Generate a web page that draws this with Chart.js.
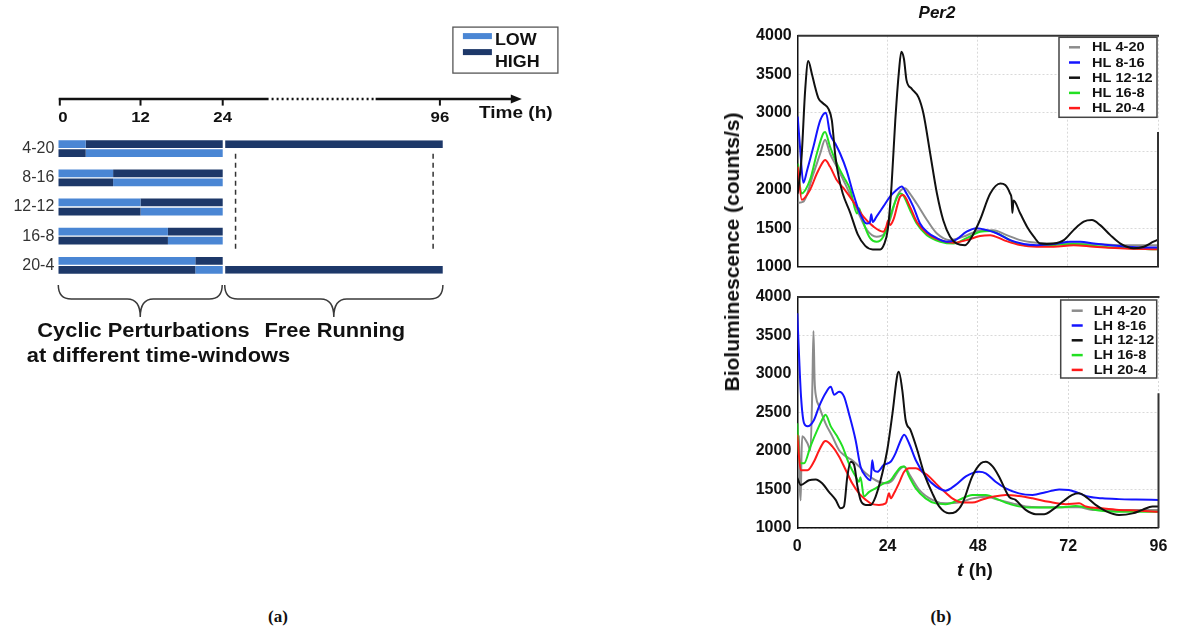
<!DOCTYPE html>
<html><head><meta charset="utf-8">
<script src="https://cdn.jsdelivr.net/npm/chart.js@4/dist/chart.umd.min.js"></script>
<style>
html,body{margin:0;padding:0;background:#fff;}
body{width:1177px;height:633px;position:relative;overflow:hidden;font-family:"Liberation Sans",Arial,sans-serif;color:#111;}
canvas{position:absolute;}
.lbl{position:absolute;transform:translate(-50%,-50%);white-space:nowrap;color:#111;}
</style></head><body>
<canvas id="ca" width="600" height="400" style="left:0;top:0"></canvas>
<canvas id="cb1" width="457" height="290" style="left:720px;top:0"></canvas>
<canvas id="cb2" width="457" height="310" style="left:720px;top:280px"></canvas>
<div class="lbl" style="left:278px;top:617px;font:bold 17px 'Liberation Serif','Times New Roman',serif">(a)</div>
<div class="lbl" style="left:941px;top:617px;font:bold 17px 'Liberation Serif','Times New Roman',serif">(b)</div>
<div class="lbl" style="left:937px;top:13px;font:italic bold 17px 'Liberation Sans',Arial,sans-serif">Per2</div>
<div class="lbl" style="left:732px;top:252px;transform:translate(-50%,-50%) rotate(-90deg);font:bold 21px 'Liberation Sans',Arial,sans-serif">Bioluminescence (counts/s)</div>
<div class="lbl" style="left:975px;top:570px;font:bold 19px 'Liberation Sans',Arial,sans-serif"><i>t</i> (h)</div>
<script>
// ---------------- DATA ----------------
// Panel (a): schematic of perturbation windows
const conditions = ['4-20', '8-16', '12-12', '16-8', '20-4'];
const firstPhaseHours = [4, 8, 12, 16, 20];
const cycleEnd = 24;
const freeRunEnd = 96;
const timeTicks = [0, 12, 24, 96];
const schematicLegend = ['LOW', 'HIGH'];
const freeRunTop = [[24, 96], null, null, null, null];
const freeRunBottom = [null, null, null, null, [24, 96]];

// Panel (b) top: HL series  [t (h), counts/s]
const HL_4_20 = [[0,1830],[1.5,1845],[4.2,2210],[6,2470],[7.3,2650],[8.6,2470],[10.4,2300],[13,2040],[15.8,1740],[18.4,1480],[21,1390],[23.1,1430],[24.6,1610],[26.4,1910],[28.6,2020],[29.9,1950],[31.7,1820],[34.4,1610],[37.1,1430],[40.6,1345],[44.1,1390],[48.6,1470],[52.1,1475],[55.7,1410],[59.3,1345],[63.7,1310],[68.2,1300],[73.5,1300],[78.9,1295],[86,1280],[96,1280]];
const HL_8_16 = [[0,2950],[0.7,2500],[1.5,2090],[2.5,2250],[4.2,2560],[6,2900],[7.5,3000],[8.6,2730],[10,2600],[11.3,2470],[13,2255],[14.8,1950],[16.6,1690],[18.4,1560],[19.2,1570],[19.6,1680],[20,1580],[21,1650],[22.8,1780],[24.6,1910],[26.4,2000],[27.7,2040],[29,1950],[30.8,1780],[32.6,1560],[34.4,1455],[37.1,1370],[39.8,1325],[42,1345],[45,1455],[47.7,1500],[50.4,1475],[53,1435],[56.6,1345],[60.2,1295],[63.7,1280],[68.2,1295],[72.6,1325],[75.3,1325],[78.9,1300],[83.3,1280],[87.7,1260],[92.2,1250],[96,1250]];
const HL_12_12 = [[0,1950],[1,2400],[2,3300],[2.8,3670],[3.8,3500],[4.6,3340],[5.5,3190],[6.8,3120],[8.2,3050],[9.1,2900],[10,2450],[11,2150],[12,1950],[14,1700],[16,1420],[18,1270],[20,1225],[22,1225],[23,1290],[24,1480],[25,2050],[26,2900],[27,3550],[27.6,3790],[28.3,3700],[29,3420],[30.4,3310],[32.2,3200],[33.5,2990],[35.3,2470],[37.1,1950],[38.8,1600],[40.6,1390],[42.4,1300],[44.6,1280],[46.4,1390],[48.6,1610],[51.3,1950],[54,2080],[55.3,2060],[56.6,1950],[57,1880],[57.2,1700],[57.5,1860],[59.3,1690],[61.1,1520],[62.9,1390],[64.6,1300],[66.4,1295],[68.2,1300],[70.9,1345],[73.5,1475],[76.2,1585],[78.4,1605],[80.6,1540],[83.3,1410],[86,1300],[89.5,1240],[92.2,1260],[94.8,1325],[96,1350]];
const HL_16_8 = [[0,2340],[1,1950],[3.3,2130],[5.1,2470],[6.8,2730],[7.3,2750],[8.6,2560],[10.4,2340],[12.2,2170],[14,2000],[15.8,1690],[16.3,1760],[16.6,1730],[17.9,1520],[19.3,1370],[21,1325],[22.8,1390],[24.1,1560],[25.5,1780],[27.3,1950],[28.1,1930],[29.9,1740],[31.7,1560],[34.4,1410],[38,1325],[41.5,1300],[45,1370],[48.6,1455],[51.3,1465],[54.9,1390],[58.4,1300],[62.9,1270],[68.2,1280],[73.5,1295],[78.9,1270],[86,1245],[96,1225]];
const HL_20_4 = [[0,2300],[1.1,1870],[3.3,2000],[5.1,2210],[6.8,2365],[7.3,2385],[8.6,2300],[10.4,2125],[12.2,2020],[14.8,1845],[17.5,1650],[20.2,1520],[22.8,1455],[23.6,1520],[24.1,1600],[24.6,1540],[25.5,1610],[27.3,1910],[28.1,1930],[29.9,1780],[31.7,1585],[34.4,1435],[38,1345],[41.5,1310],[45,1345],[48.6,1400],[51.3,1410],[54.9,1345],[59.3,1280],[63.7,1260],[68.2,1260],[73.5,1280],[78.9,1260],[86,1240],[96,1225]];

// Panel (b) bottom: LH series
const LH_4_20 = [[0,2200],[0.4,2190],[0.7,1500],[0.9,1360],[1.1,1900],[1.3,2190],[2.7,2100],[3.5,2010],[4,2830],[4.3,3560],[4.6,2920],[5,2700],[5.8,2580],[7.5,2360],[9.3,2190],[11.1,2010],[12.9,1930],[14.6,1880],[16.4,1800],[18.2,1710],[20.8,1620],[23.5,1580],[25.3,1620],[27,1750],[28.4,1800],[30.1,1670],[32.4,1495],[35.9,1365],[39.4,1320],[43,1330],[46.5,1385],[50.1,1405],[53.6,1365],[57.2,1320],[60.7,1280],[64.3,1270],[67.8,1270],[72.2,1270],[74.9,1270],[78.4,1235],[83.8,1235],[90,1235],[96,1235]];
const LH_8_16 = [[0,3790],[0.5,3200],[1,2700],[1.8,2360],[2.7,2320],[4.4,2400],[5.8,2580],[7.5,2750],[8.9,2835],[9.8,2730],[11.1,2770],[12.4,2710],[13.7,2490],[15.5,2140],[16.8,1800],[18.2,1670],[19.5,1620],[19.9,1880],[20.4,1750],[21.3,1730],[23,1820],[24.8,1860],[26.1,1970],[27.5,2140],[28.4,2210],[29.7,2100],[31.5,1880],[34.1,1670],[36.8,1540],[39.4,1485],[42.1,1560],[44.8,1670],[48.3,1730],[50.1,1710],[52.7,1600],[55.4,1515],[58.9,1450],[62.5,1430],[66,1465],[69.6,1500],[72.2,1495],[74.9,1450],[77.6,1405],[81.1,1385],[85.5,1375],[90,1370],[96,1365]];
const LH_12_12 = [[0,1650],[0.9,1560],[3.1,1620],[4.9,1630],[6.6,1580],[8.4,1470],[10.2,1365],[11.5,1255],[12.4,1280],[13.3,1670],[14.2,1860],[15.1,1820],[16,1540],[16.8,1365],[18.2,1300],[19.5,1300],[20.8,1405],[22.6,1710],[23.9,2010],[25.3,2490],[26.6,2990],[27,3030],[27.9,2790],[28.8,2400],[30.1,2270],[31.9,2010],[33.7,1710],[35.9,1450],[37.7,1280],[40.3,1190],[42.1,1210],[43.9,1320],[46.5,1670],[48.8,1840],[50.1,1860],[51.9,1800],[53.6,1670],[56.3,1405],[58,1365],[60.7,1235],[63.4,1180],[65.6,1180],[67.8,1235],[70.5,1340],[73.1,1430],[74.9,1450],[76.7,1405],[79.3,1300],[82,1220],[85.5,1170],[89.1,1190],[91.7,1235],[94.4,1280],[96,1280]];
const LH_16_8 = [[0,2360],[0.6,1840],[1.8,1840],[3.5,2060],[5.3,2270],[7.1,2450],[7.5,2470],[8.9,2320],[10.6,2190],[12,2060],[13.7,1840],[15.5,1670],[16.4,1600],[16.8,1660],[17.7,1410],[19.1,1470],[20.8,1515],[23,1580],[24.8,1620],[26.1,1710],[27.5,1790],[28.4,1800],[29.7,1670],[31.5,1515],[34.1,1385],[36.8,1320],[39.4,1310],[43,1365],[46.5,1430],[50.1,1430],[53.6,1365],[57.2,1300],[61.6,1265],[66,1265],[70.5,1270],[74,1285],[75.8,1275],[79.3,1235],[83.8,1215],[90,1210],[96,1210]];
const LH_20_4 = [[0,2210],[0.9,1750],[2.7,1750],[4.4,1860],[5.8,2010],[7.1,2120],[7.5,2130],[9.3,2060],[11.1,1930],[12.9,1750],[14.6,1580],[16.4,1450],[18.2,1365],[19.9,1310],[21.7,1300],[23.5,1320],[24.4,1450],[24.8,1385],[25.7,1450],[27,1580],[28.4,1730],[29.7,1775],[31.5,1775],[33.2,1730],[35,1670],[36.8,1580],[38.6,1495],[41.2,1385],[43.9,1330],[46.5,1330],[49.2,1370],[51.9,1405],[55.4,1430],[58.9,1415],[62.5,1385],[66.9,1340],[71.4,1310],[74.9,1320],[76.7,1280],[81.1,1255],[85.5,1235],[90.9,1225],[96,1210]];

const hlLabels = ['HL 4-20', 'HL 8-16', 'HL 12-12', 'HL 16-8', 'HL 20-4'];
const lhLabels = ['LH 4-20', 'LH 8-16', 'LH 12-12', 'LH 16-8', 'LH 20-4'];
const yTicksMin = 1000, yTicksMax = 4000, yTickStep = 500;
const tTickStep = 24;

// ---------------- STYLE ----------------
const FONT = '"Liberation Sans", Arial, sans-serif';
Chart.defaults.font.family = FONT;
Chart.defaults.color = '#111';
const LOW_COLOR = '#4a86d4', HIGH_COLOR = '#1d3869';
const seriesColors = ['#8c8c8c', '#1414ff', '#111111', '#22e022', '#ff1a1a'];
const seriesOrder = [5, 2, 1, 4, 3];
const GRID = 'rgba(0,0,0,0.15)';

function sText(ctx, s, x, y, font, sx, align) {
  ctx.save();
  ctx.font = font; ctx.textBaseline = 'middle'; ctx.textAlign = 'left';
  const w = ctx.measureText(s).width * sx;
  const x0 = align === 'center' ? x - w / 2 : align === 'right' ? x - w : x;
  ctx.translate(x0, y); ctx.scale(sx, 1);
  ctx.fillText(s, 0, 0);
  ctx.restore();
}

// Broken time scale: 0..24 h expanded, 24..96 h compressed (as in schematic)
class BrokenTimeScale extends Chart.LinearScale {
  getPixelForValue(value) {
    const at = this.options.brk.at, frac = this.options.brk.frac;
    const d = value <= at ? (value - this.min) / (at - this.min) * frac
                          : frac + (value - at) / (this.max - at) * (1 - frac);
    return this.getPixelForDecimal(d);
  }
  getValueForPixel(pixel) {
    const at = this.options.brk.at, frac = this.options.brk.frac;
    const d = this.getDecimalForPixel(pixel);
    return d <= frac ? this.min + d / frac * (at - this.min) : at + (d - frac) / (1 - frac) * (this.max - at);
  }
}
BrokenTimeScale.id = 'brokenTime';
BrokenTimeScale.defaults = {};
Chart.register(BrokenTimeScale);

// ---------------- PANEL (a) ----------------
const schematicPlugin = {
  id: 'schematic',
  afterDraw(chart, args, o) {
    const ctx = chart.ctx, xs = chart.scales.x, ys = chart.scales.y, ca = chart.chartArea;
    const X = v => xs.getPixelForValue(v);
    ctx.save();
    ctx.strokeStyle = '#111'; ctx.fillStyle = '#111';
    // time axis
    const ay = ca.top - 35;
    ctx.lineWidth = 2.5; ctx.lineCap = 'butt';
    ctx.beginPath(); ctx.moveTo(X(0) + 0.5, ay); ctx.lineTo(X(o.breakFrom), ay); ctx.stroke();
    ctx.setLineDash([2, 3]);
    ctx.beginPath(); ctx.moveTo(X(o.breakFrom) + 3, ay); ctx.lineTo(X(o.breakTo) - 2, ay); ctx.stroke();
    ctx.setLineDash([]);
    const tip = X(o.axisEnd);
    ctx.beginPath(); ctx.moveTo(X(o.breakTo), ay); ctx.lineTo(tip - 8, ay); ctx.stroke();
    ctx.beginPath(); ctx.moveTo(tip, ay); ctx.lineTo(tip - 11, ay - 4.5); ctx.lineTo(tip - 11, ay + 4.5); ctx.closePath(); ctx.fill();
    ctx.lineWidth = 2;
    timeTicks.forEach(v => {
      const px = v === 0 ? X(v) + 1.5 : X(v) - (v === freeRunEnd ? 3 : 0);
      ctx.beginPath(); ctx.moveTo(px, ay - 1); ctx.lineTo(px, ay + 6.5); ctx.stroke();
      sText(ctx, String(v), v === 0 ? px + 3 : px, ay + 19, 'bold 15px ' + FONT, 1.12, 'center');
    });
    sText(ctx, 'Time (h)', X(freeRunEnd) + 36, ay + 14, 'bold 17px ' + FONT, 1.12, 'left');

    // LOW / HIGH legend box
    const lx = ca.right + 10, ly = ca.top - 107;
    ctx.lineWidth = 1.3; ctx.strokeStyle = '#555';
    ctx.strokeRect(lx, ly, 105, 46);
    const sw = [LOW_COLOR, HIGH_COLOR];
    schematicLegend.forEach((s, i) => {
      ctx.fillStyle = sw[i];
      ctx.fillRect(lx + 10, ly + 6 + i * 16, 29, 6);
      ctx.fillStyle = '#111';
      sText(ctx, s, lx + 42, ly + 13 + i * 22.7, 'bold 16px ' + FONT, 1.12, 'left');
    });

    // dashed guide lines for free running
    ctx.strokeStyle = '#333'; ctx.lineWidth = 1.5; ctx.setLineDash([5, 4]);
    const y1 = ys.getPixelForValue(0) + 5, y2 = ys.getPixelForValue(conditions.length - 1) - 13.5;
    [o.dashA, o.dashB].forEach(v => {
      ctx.beginPath(); ctx.moveTo(X(v), y1); ctx.lineTo(X(v), y2); ctx.stroke();
    });
    ctx.setLineDash([]);

    // braces
    ctx.strokeStyle = '#3a3a3a'; ctx.lineWidth = 1.5;
    const y0 = ca.bottom + 5, yMid = ca.bottom + 19, yTip = ca.bottom + 37;
    function brace(x1, x2) {
      const xm = (x1 + x2) / 2, r = 13;
      ctx.beginPath();
      ctx.moveTo(x1, y0);
      ctx.quadraticCurveTo(x1, yMid, x1 + r, yMid);
      ctx.lineTo(xm - r, yMid);
      ctx.quadraticCurveTo(xm, yMid, xm, yTip);
      ctx.quadraticCurveTo(xm, yMid, xm + r, yMid);
      ctx.lineTo(x2 - r, yMid);
      ctx.quadraticCurveTo(x2, yMid, x2, y0);
      ctx.stroke();
    }
    brace(X(0), X(cycleEnd) - 0.5);
    brace(X(cycleEnd) + 2, X(freeRunEnd));
    ctx.fillStyle = '#111';
    const f = 'bold 19.5px ' + FONT;
    sText(ctx, 'Cyclic Perturbations', (X(0) + X(cycleEnd)) / 2 + 3, ca.bottom + 52, f, 1.12, 'center');
    sText(ctx, 'Free Running', (X(cycleEnd) + X(freeRunEnd)) / 2 + 2, ca.bottom + 52, f, 1.12, 'center');
    sText(ctx, 'at different time-windows', (X(0) + X(cycleEnd)) / 2 + 18, ca.bottom + 77, f, 1.12, 'center');
    ctx.restore();
  }
};

const hlLow = firstPhaseHours.map(k => [0, k]);
const hlHigh = firstPhaseHours.map(k => [k, cycleEnd]);
const lhHigh = firstPhaseHours.map(k => [0, k]);
const lhLow = firstPhaseHours.map(k => [k, cycleEnd]);
const barCommon = { barPercentage: 0.86, categoryPercentage: 0.62, borderWidth: 0 };
const freeCommon = { barPercentage: 0.86, categoryPercentage: 0.62, borderSkipped: false,
  borderWidth: { left: 2.5, right: 0, top: 0, bottom: 0 }, borderColor: '#fff' };

new Chart(document.getElementById('ca'), {
  type: 'bar',
  data: {
    labels: conditions,
    datasets: [
      { label: 'LOW', data: hlLow, stack: 'HL', backgroundColor: LOW_COLOR, ...barCommon },
      { label: 'HIGH', data: hlHigh, stack: 'HL', backgroundColor: HIGH_COLOR, ...barCommon },
      { label: 'free', data: freeRunTop, stack: 'HL', backgroundColor: HIGH_COLOR, ...freeCommon },
      { label: 'HIGH', data: lhHigh, stack: 'LH', backgroundColor: HIGH_COLOR, ...barCommon },
      { label: 'LOW', data: lhLow, stack: 'LH', backgroundColor: LOW_COLOR, ...barCommon },
      { label: 'free', data: freeRunBottom, stack: 'LH', backgroundColor: HIGH_COLOR, ...freeCommon }
    ]
  },
  options: {
    indexAxis: 'y', responsive: false, animation: false, events: [],
    layout: { padding: { top: 134.1, bottom: 120.1, left: 0, right: 157.1 } },
    plugins: {
      legend: { display: false }, tooltip: { enabled: false },
      schematic: { breakFrom: 39, breakTo: 74, axisEnd: 121.8, dashA: 28.2, dashB: 92.8 }
    },
    scales: {
      x: { type: 'brokenTime', min: 0, max: freeRunEnd, stacked: false, display: false, brk: { at: cycleEnd, frac: 0.4275 } },
      y: { type: 'category', offset: true,
           grid: { display: false, drawTicks: false }, border: { display: false },
           ticks: { font: { size: 16 }, color: '#333', padding: 4 },
           afterFit(s) { s.width = 58.3; } }
    }
  },
  plugins: [schematicPlugin]
});

// ---------------- PANEL (b) ----------------
const boxLegend = {
  id: 'boxLegend',
  afterDraw(chart, args, o) {
    const ctx = chart.ctx, ca = chart.chartArea;
    const left = ca.right - o.width - o.rightGap, top = ca.top + o.topGap;
    ctx.save();
    ctx.fillStyle = '#fff'; ctx.fillRect(left, top, o.width, o.height);
    ctx.strokeStyle = '#444'; ctx.lineWidth = 1.5; ctx.strokeRect(left, top, o.width, o.height);
    chart.data.datasets.forEach((ds, i) => {
      const y = top + o.firstRow + i * o.rowGap;
      ctx.strokeStyle = ds.borderColor; ctx.lineWidth = 2.5;
      ctx.beginPath(); ctx.moveTo(left + o.lineX, y); ctx.lineTo(left + o.lineX + 11, y); ctx.stroke();
      ctx.fillStyle = '#111';
      sText(ctx, ds.label, left + o.textX, y + 0.5, 'bold 13px ' + FONT, 1.12, 'left');
    });
    ctx.restore();
  }
};
const framePlugin = {
  id: 'frame',
  afterDatasetsDraw(chart, args, o) {
    const ctx = chart.ctx, ca = chart.chartArea, ys = chart.scales.y;
    ctx.save();
    ctx.strokeStyle = '#333'; ctx.lineWidth = 2;
    ctx.beginPath(); ctx.moveTo(ca.left, ca.top); ctx.lineTo(ca.right + 1, ca.top); ctx.stroke();
    ctx.beginPath(); ctx.moveTo(ca.right, ys.getPixelForValue(o.rightFrom)); ctx.lineTo(ca.right, ca.bottom); ctx.stroke();
    ctx.restore();
  }
};

function lineChart(id, series, labels, pad, yWidth, xHeight, showX, legendOpts) {
  return new Chart(document.getElementById(id), {
    type: 'line',
    data: {
      datasets: series.map((s, i) => ({
        label: labels[i],
        data: s.map(p => ({ x: p[0], y: p[1] })),
        borderColor: seriesColors[i], borderWidth: 2, pointRadius: 0,
        cubicInterpolationMode: 'monotone', order: seriesOrder[i], fill: false
      }))
    },
    options: {
      responsive: false, animation: false, events: [],
      layout: { padding: pad },
      plugins: { legend: { display: false }, tooltip: { enabled: false },
                 boxLegend: legendOpts, frame: { rightFrom: 2750 } },
      scales: {
        x: { type: 'linear', min: 0, max: 96,
             ticks: { display: showX, stepSize: tTickStep, padding: 9, font: { size: 16, weight: 'bold' }, color: '#111', maxRotation: 0,
                      callback: v => String(v) },
             grid: { color: GRID, drawTicks: false, lineWidth: 1 },
             border: { display: true, color: '#111', width: 1.5, dash: [2, 2] },
             afterFit(s) { s.height = xHeight; } },
        y: { type: 'linear', min: yTicksMin, max: yTicksMax,
             ticks: { stepSize: yTickStep, padding: 6, font: { size: 16, weight: 'bold' }, color: '#111',
                      callback: v => String(v) },
             grid: { color: GRID, drawTicks: false, lineWidth: 1 },
             border: { display: true, color: '#111', width: 1.5, dash: [2, 2] },
             afterFit(s) { s.width = yWidth; } }
      }
    },
    plugins: [framePlugin, boxLegend]
  });
}

lineChart('cb1', [HL_4_20, HL_8_16, HL_12_12, HL_16_8, HL_20_4], hlLabels,
  { top: 35.7, right: 19, bottom: 23.3, left: 0 }, 77.7, 0, false,
  { width: 98, height: 80, rightGap: 1, topGap: 1.6, firstRow: 10, rowGap: 15.2, lineX: 10, textX: 33 });
lineChart('cb2', [LH_4_20, LH_8_16, LH_12_12, LH_16_8, LH_20_4], lhLabels,
  { top: 17, right: 18.5, bottom: 0, left: 0 }, 77.3, 62, true,
  { width: 96, height: 78, rightGap: 1.8, topGap: 3, firstRow: 10.7, rowGap: 14.8, lineX: 11, textX: 33 });
</script>
</body></html>
